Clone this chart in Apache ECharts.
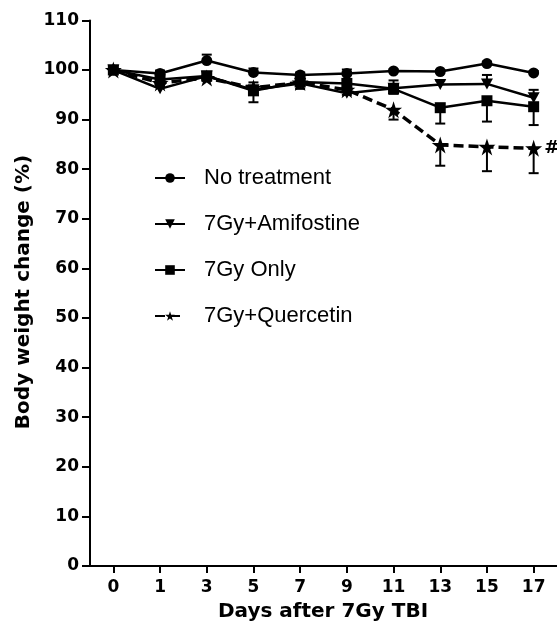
<!DOCTYPE html>
<html>
<head>
<meta charset="utf-8">
<script src="https://cdn.jsdelivr.net/npm/echarts@6/dist/echarts.min.js"></script>
<style>
html,body{margin:0;padding:0;background:#fff;}
#chart{width:557px;height:629px;}
</style>
</head>
<body>
<div id="chart"></div>
<script>
var days = ['0','1','3','5','7','9','11','13','15','17'];
var yTicks = [0,10,20,30,40,50,60,70,80,90,100,110];

var noTreatment    = [100, 99.3, 101.9, 99.5, 99.0, 99.3, 99.8, 99.7, 101.3, 99.4];
var noTreatmentErr = [0, 0.6, 1.2, 0.8, 0.5, 0.8, 0.3, 0.3, 0.4, 0.4];
var amifostine     = [100, 96.2, 98.8, 96.0, 97.3, 95.3, 96.3, 97.1, 97.2, 94.4];
var amifostineErr  = [0, 0.5, 0.8, 1.5, 0.8, 1.0, 1.6, 0.8, 1.8, 1.6];
var sevenGyOnly    = [100, 98.1, 98.8, 95.8, 97.6, 97.3, 96.2, 92.4, 93.8, 92.6];
var sevenGyOnlyErr = [0, 0.8, 0.6, 2.3, 1.4, 1.5, 1.0, 3.2, 4.2, 3.7];
var quercetin      = [100, 97.4, 98.4, 96.4, 97.5, 96.0, 92.0, 84.9, 84.5, 84.2];
var quercetinErr   = [0, 0.6, 0.6, 1.0, 0.8, 1.0, 2.0, 4.2, 4.9, 5.0];

var names = ['No treatment', '7Gy+Amifostine', '7Gy Only', '7Gy+Quercetin'];

var STAR = 'path://M50,0 L61.8,35.5 L99,35.5 L69,57.5 L80.5,93 L50,71 L19.5,93 L31,57.5 L1,35.5 L38.2,35.5 Z';
var TRI_DOWN = 'path://M0,0 L100,0 L50,90 Z';

function errData(vals, errs, dir) {
  var out = [];
  for (var i = 0; i < vals.length; i++) {
    if (errs[i] > 0) out.push([i, vals[i], errs[i], dir]);
  }
  return out;
}

function errSeries(vals, errs, dir) {
  return {
    type: 'custom',
    silent: true,
    z: 1,
    data: errData(vals, errs, dir),
    encode: { x: 0, y: 1 },
    renderItem: function (params, api) {
      var x = api.value(0), y = api.value(1), e = api.value(2), d = api.value(3);
      var p0 = api.coord([x, y]);
      var p1 = api.coord([x, y + d * e]);
      var cw = 5;
      return {
        type: 'group',
        children: [
          { type: 'line', shape: { x1: p0[0], y1: p0[1], x2: p1[0], y2: p1[1] }, style: { stroke: '#000', lineWidth: 2 } },
          { type: 'line', shape: { x1: p1[0] - cw, y1: p1[1], x2: p1[0] + cw, y2: p1[1] }, style: { stroke: '#000', lineWidth: 2 } }
        ]
      };
    }
  };
}

var BOLD = 'DejaVu Sans, sans-serif';
var FONT = 'Liberation Sans, Arial, sans-serif';

var quercData = quercetin.map(function (v, i) {
  if (i === quercetin.length - 1) {
    return { value: v, label: { show: true, position: 'right', distance: 2, formatter: '#', color: '#000', fontWeight: 'bold', fontSize: 18, fontFamily: BOLD } };
  }
  return v;
});

var chart = echarts.init(document.getElementById('chart'), null, { renderer: 'canvas' });

chart.setOption({
  animation: false,
  backgroundColor: '#fff',
  grid: { left: 90, right: 0, top: 20.4, bottom: 63, containLabel: false },
  legend: {
    orient: 'vertical',
    left: 154,
    top: 167,
    padding: 0,
    itemWidth: 30,
    itemHeight: 12,
    itemGap: 24,
    data: names,
    textStyle: { color: '#000', fontSize: 22, fontFamily: FONT, padding: [0, 0, 0, 14] },
    inactiveColor: '#000'
  },
  xAxis: {
    type: 'category',
    data: days,
    boundaryGap: true,
    axisLine: { show: true, lineStyle: { color: '#000', width: 2 } },
    axisTick: { show: true, alignWithLabel: true, length: 7, lineStyle: { color: '#000', width: 2 } },
    axisLabel: { color: '#000', fontSize: 17, fontWeight: 'bold', fontFamily: BOLD, margin: 13 },
    splitLine: { show: false }
  },
  yAxis: {
    type: 'value',
    min: yTicks[0],
    max: yTicks[yTicks.length - 1],
    interval: 10,
    axisLine: { show: true, lineStyle: { color: '#000', width: 2 } },
    axisTick: { show: true, length: 8, lineStyle: { color: '#000', width: 2 } },
    axisLabel: { color: '#000', fontSize: 17, fontWeight: 'bold', fontFamily: BOLD, margin: 11 },
    splitLine: { show: false }
  },
  graphic: [
    {
      type: 'text',
      x: 323, y: 612,
      style: { text: 'Days after 7Gy TBI', fill: '#000', font: 'bold 20px ' + BOLD, textAlign: 'center', textVerticalAlign: 'middle' }
    },
    {
      type: 'text',
      x: 24, y: 292,
      rotation: Math.PI / 2,
      style: { text: 'Body weight change (%)', fill: '#000', font: 'bold 20px ' + BOLD, textAlign: 'center', textVerticalAlign: 'middle' }
    }
  ],
  series: [
    errSeries(noTreatment, noTreatmentErr, 1),
    errSeries(amifostine, amifostineErr, 1),
    errSeries(sevenGyOnly, sevenGyOnlyErr, -1),
    errSeries(quercetin, quercetinErr, -1),
    {
      name: names[0], type: 'line', data: noTreatment, z: 3,
      symbol: 'circle', symbolSize: 11,
      itemStyle: { color: '#000' }, lineStyle: { color: '#000', width: 2.5 }
    },
    {
      name: names[1], type: 'line', data: amifostine, z: 3,
      symbol: TRI_DOWN, symbolSize: [12, 11],
      itemStyle: { color: '#000' }, lineStyle: { color: '#000', width: 2.5 }
    },
    {
      name: names[2], type: 'line', data: sevenGyOnly, z: 3,
      symbol: 'rect', symbolSize: 11,
      itemStyle: { color: '#000' }, lineStyle: { color: '#000', width: 2.5 }
    },
    {
      name: names[3], type: 'line', data: quercData, z: 3,
      symbol: STAR, symbolSize: 17,
      itemStyle: { color: '#000' }, lineStyle: { color: '#000', width: 3.5, type: [10, 5] }
    }
  ]
});
</script>
</body>
</html>
